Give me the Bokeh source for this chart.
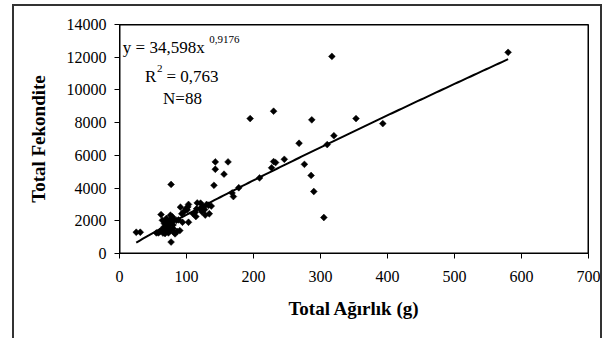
import math
from bokeh.plotting import figure
from bokeh.models import Range1d, FixedTicker
from bokeh.core.properties import value
from bokeh.embed import file_html
from bokeh.resources import INLINE

# --- data ---
weight = [580, 317, 230, 195, 287, 353, 393, 320, 310, 268,
          246, 230, 233, 227, 276, 286, 290, 305, 143, 162,
          143, 156, 141, 209, 178, 168, 170, 134,
          103, 91, 101, 113, 121, 125, 130, 94, 103, 90,
          115, 120, 127, 133, 124, 116, 96, 93, 114,
          25, 31, 62, 77, 77, 55, 58, 64, 67, 70,
          73, 76, 75, 79, 80, 82, 85, 73, 68, 63,
          66, 70, 72, 78, 80, 83, 65, 74, 69, 76,
          60, 71, 81, 88, 86, 102, 99, 110, 123, 137, 128]
fecundity = [12300, 12050, 8700, 8250, 8170, 8250, 7940, 7200, 6660, 6740,
             5760, 5620, 5560, 5240, 5450, 4770, 3790, 2200, 5600, 5600,
             5150, 4850, 4170, 4620, 4020, 3700, 3480, 2430,
             3000, 2830, 2670, 2520, 3080, 2870, 3000, 1910, 1910, 1400,
             2730, 2730, 2690, 2950, 2810, 3090, 2550, 2430, 2260,
             1300, 1300, 2380, 4220, 700, 1260, 1260, 2030, 1830, 2140,
             1630, 2340, 2030, 2240, 1530, 1260, 2030, 1260, 1220, 1420,
             1600, 1900, 1450, 1900, 1750, 1200, 1250, 1800, 1500, 1400,
             1330, 2000, 2100, 2050, 1350, 2850, 2720, 2420, 2550, 2900, 2350]

# power trend line shown on the chart: y = 34,598 x^0,9176
trend_a = 34.598
trend_b = 0.9176
x_ticks = [0, 100, 200, 300, 400, 500, 600, 700]
y_ticks = [0, 2000, 4000, 6000, 8000, 10000, 12000, 14000]

SERIF = "Liberation Serif"

p = figure(width=590, height=334, output_backend="svg", toolbar_location=None,
           x_range=Range1d(x_ticks[0], x_ticks[-1]),
           y_range=Range1d(y_ticks[0], y_ticks[-1]),
           min_border_left=105, min_border_right=16, min_border_top=18,
           min_border_bottom=87)
# outer chart border (open at the bottom, as in the reference)
p.styles = {"margin-left": "12px", "margin-top": "4px",
            "border-left": "2px solid #333333",
            "border-top": "2px solid #333333",
            "border-right": "2px solid #333333"}

p.xgrid.visible = False
p.ygrid.visible = False
p.outline_line_color = "black"
p.background_fill_color = "white"
p.border_fill_color = "white"

for ax in (p.xaxis[0], p.yaxis[0]):
    ax.axis_line_color = "black"
    ax.major_tick_line_color = "black"
    ax.minor_tick_line_color = None
    ax.major_tick_in = 0
    ax.major_tick_out = 5
    ax.major_label_text_font = SERIF
    ax.major_label_text_font_size = "16px"
    ax.major_label_text_color = "black"
    ax.axis_label_text_font = SERIF
    ax.axis_label_text_font_style = "bold"
    ax.axis_label_text_font_size = "19px"
    ax.axis_label_text_color = "black"

p.xaxis.ticker = FixedTicker(ticks=x_ticks)
p.yaxis.ticker = FixedTicker(ticks=y_ticks)
p.xaxis.axis_label = "Total Ağırlık (g)"
p.yaxis.axis_label = "Total Fekondite"
p.xaxis.major_label_standoff = 12
p.yaxis.major_label_standoff = 8
p.xaxis.axis_label_standoff = 13
p.yaxis.axis_label_standoff = 15

# plot-area box (top and right edges)
p.quad(left=[x_ticks[0]], right=[x_ticks[-1]], bottom=[y_ticks[0]], top=[y_ticks[-1]],
       fill_color=None, line_color="black", line_width=2)

# trend line
xmin, xmax = min(weight), max(weight)
n = 120
tx = [xmin + (xmax - xmin) * i / (n - 1) for i in range(n)]
ty = [trend_a * v ** trend_b for v in tx]
p.line(tx, ty, line_color="black", line_width=2)

# data points (diamonds)
p.scatter(weight, fecundity, marker="square", angle=math.pi / 4, size=4.8,
          fill_color="black", line_color="black", line_width=0.5)

# equation annotation
ann = dict(text_font=value(SERIF), text_color="black", text_baseline="middle",
           text_align="left")
p.text(x=[5], y=[12600], text=["y = 34,598x"], text_font_size="17px", **ann)
p.text(x=[134], y=[13100], text=["0,9176"], text_font_size="11px", **ann)
p.text(x=[38], y=[10850], text=["R"], text_font_size="17px", **ann)
p.text(x=[56], y=[11300], text=["2"], text_font_size="11px", **ann)
p.text(x=[70], y=[10850], text=["= 0,763"], text_font_size="17px", **ann)
p.text(x=[65], y=[9500], text=["N=88"], text_font_size="17px", **ann)

open("out.html", "w").write(file_html(p, INLINE))
